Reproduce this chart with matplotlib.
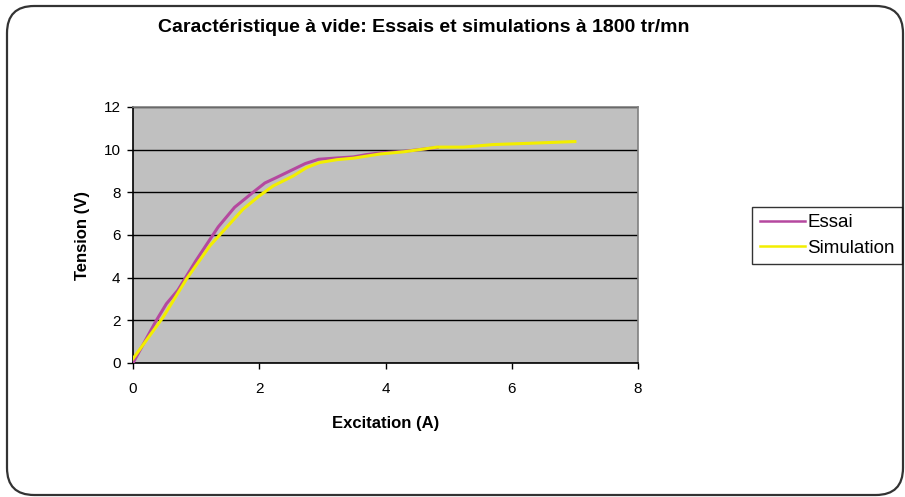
import matplotlib
matplotlib.use("Agg")
import matplotlib.pyplot as plt
from matplotlib.patches import FancyBboxPatch

plt.rcParams['font.family'] = ['Liberation Sans', 'DejaVu Sans']

# Essai (measured no-load characteristic)
essai_i = [0.0, 0.37, 0.53, 0.71, 1.0, 1.35, 1.61, 1.88, 2.09, 2.27, 2.73, 2.94, 3.23, 3.49, 3.7, 3.92, 4.29, 4.82]
essai_v = [0.0, 2.0, 2.78, 3.41, 4.81, 6.38, 7.3, 7.95, 8.44, 8.69, 9.35, 9.55, 9.61, 9.66, 9.77, 9.85, 9.92, 10.1]

# Simulation
sim_i = [0.0, 0.48, 0.85, 1.22, 1.74, 2.0, 2.22, 2.54, 2.75, 2.96, 3.23, 3.49, 3.92, 4.29, 4.82, 5.24, 5.71, 6.29, 7.0]
sim_v = [0.2, 2.16, 3.95, 5.5, 7.2, 7.83, 8.3, 8.77, 9.16, 9.4, 9.53, 9.6, 9.8, 9.9, 10.12, 10.12, 10.24, 10.3, 10.38]

x_ticks = [0, 2, 4, 6, 8]
y_ticks = [0, 2, 4, 6, 8, 10, 12]

W, H = 905, 497
fig = plt.figure(figsize=(W / 100, H / 100), dpi=100)

# rounded chart frame, kept behind the axes
frame = FancyBboxPatch((7 / W, 1 - 495 / H), (903 - 7) / W, (495 - 6) / H,
                       boxstyle="round,pad=0,rounding_size=0.03",
                       transform=fig.transFigure, facecolor='white',
                       edgecolor='#333333', linewidth=1.6, mutation_aspect=W / H,
                       zorder=-10)
fig.patches.append(frame)

ax = fig.add_axes([133 / W, 1 - 363 / H, (638 - 133) / W, (363 - 107) / H])
ax.set_zorder(1)
ax.set_facecolor('#C0C0C0')
ax.plot(essai_i, essai_v, color='#B5489F', lw=2.2, label='Essai', zorder=3)
ax.plot(sim_i, sim_v, color='#F2EE00', lw=2.2, label='Simulation', zorder=4)

ax.set_xlim(0, 8)
ax.set_ylim(0, 12)
ax.set_xticks(x_ticks)
ax.set_yticks(y_ticks)
ax.tick_params(axis='both', direction='out', length=4, width=1, labelsize=11, color='black')
ax.tick_params(axis='x', pad=10)
ax.tick_params(axis='y', pad=5)
ax.grid(axis='y', color='black', lw=1)
ax.set_axisbelow(True)
for s in ['top', 'right']:
    ax.spines[s].set_color('#808080')
    ax.spines[s].set_linewidth(1.2)
for s in ['left', 'bottom']:
    ax.spines[s].set_color('black')
    ax.spines[s].set_linewidth(1.2)

ax.set_xlabel('Excitation (A)', fontsize=12, fontweight='bold', labelpad=14)
ax.set_ylabel('Tension (V)', fontsize=12, fontweight='bold', labelpad=10)

fig.text(424 / W, 1 - 28 / H, 'Caractéristique à vide: Essais et simulations à 1800 tr/mn',
         ha='center', va='center', fontsize=14, fontweight='bold')

leg = ax.legend(loc='center left', bbox_to_anchor=(752 / W, 1 - 235.5 / H),
                bbox_transform=fig.transFigure, frameon=True, fancybox=False,
                edgecolor='black', fontsize=13.5, handlelength=2.4, handletextpad=0.15,
                borderpad=0.4, labelspacing=0.45, borderaxespad=0)
leg.get_frame().set_linewidth(1)
for h in leg.get_lines():
    h.set_linewidth(1.8)

fig.savefig('out.png', dpi=100)
